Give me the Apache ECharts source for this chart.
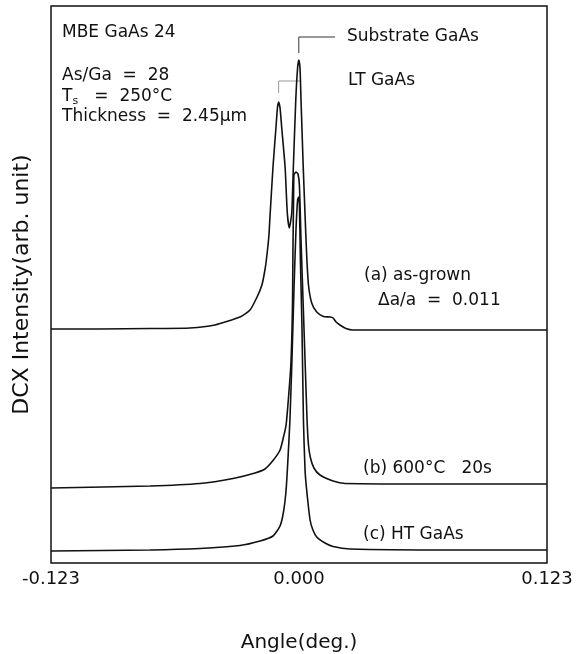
<!DOCTYPE html>
<html>
<head>
<meta charset="utf-8">
<script src="https://cdn.jsdelivr.net/npm/echarts@6/dist/echarts.min.js"></script>
<style>
  html, body { margin: 0; padding: 0; background: #fff; }
  #chart { width: 587px; height: 654px; }
</style>
</head>
<body>
<div id="chart"></div>
<script>
// angle (deg.) and intensity (arb. unit)
const xTicks = [-0.123, 0.000, 0.123];

const curveA = [
  [-0.123, 234], [-0.0987, 234], [-0.0739, 234.5], [-0.0541, 235], [-0.0417, 238],
  [-0.0293, 246], [-0.0243, 253], [-0.0208, 266], [-0.0184, 278], [-0.0169, 293],
  [-0.0159, 308], [-0.0149, 328], [-0.0144, 346], [-0.0129, 396], [-0.0114, 436],
  [-0.0107, 455], [-0.0101, 461], [-0.0094, 455], [-0.0086, 436], [-0.0069, 396],
  [-0.0058, 350], [-0.0048, 335], [-0.0036, 350], [-0.0028, 396], [-0.0016, 463],
  [-0.0007, 495], [-0.0001, 503], [0.0005, 495], [0.0010, 463], [0.0021, 396],
  [0.0030, 348], [0.0038, 308], [0.0047, 278], [0.0063, 260], [0.0088, 251],
  [0.0121, 246.5], [0.0154, 246], [0.0169, 245], [0.0184, 241], [0.0203, 238],
  [0.0233, 234.5], [0.0268, 233], [0.0749, 233], [0.123, 233]
];

const curveB = [
  [-0.123, 75], [-0.0739, 77], [-0.0491, 79.5], [-0.0327, 84.5], [-0.0218, 90],
  [-0.0169, 94], [-0.0127, 103], [-0.0094, 113], [-0.0078, 125], [-0.0064, 138],
  [-0.0053, 163], [-0.0041, 196], [-0.0035, 230], [-0.0032, 263], [-0.0030, 313],
  [-0.0027, 363], [-0.0025, 388], [-0.0015, 391], [-0.0005, 389], [0.0002, 378],
  [0.0010, 323], [0.0020, 263], [0.0030, 203], [0.0040, 143], [0.0047, 118],
  [0.0057, 105], [0.0074, 95], [0.0104, 88], [0.0169, 82], [0.0228, 79.5],
  [0.0749, 79], [0.123, 79]
];

const curveC = [
  [-0.123, 12], [-0.0739, 13], [-0.0491, 14.5], [-0.0293, 17.5], [-0.0193, 22],
  [-0.0129, 27], [-0.0094, 37], [-0.0077, 51], [-0.0064, 73], [-0.0055, 103],
  [-0.0045, 143], [-0.0035, 203], [-0.0025, 273], [-0.0015, 333], [-0.0007, 363],
  [-0.0002, 366], [0.0002, 358], [0.0007, 303], [0.0015, 233], [0.0022, 143],
  [0.0030, 93], [0.0038, 73], [0.0055, 43], [0.0069, 33], [0.0088, 26],
  [0.0129, 20], [0.0169, 16.5], [0.0253, 14], [0.0749, 13], [0.123, 13]
];

// leader lines from the peaks to their labels
const substrateLeader = [[-0.0001, 510], [-0.0001, 526], [0.0179, 526]];
const ltLeader = [[-0.0101, 470], [-0.0101, 482], [0.0005, 482]];

const FONT = "DejaVu Sans, Verdana, sans-serif";
const chart = echarts.init(document.getElementById("chart"));

function trace(name, data) {
  return {
    name: name,
    type: "line",
    data: data,
    symbol: "none",
    smooth: 0.2,
    lineStyle: {color: "#111", width: 1.6},
    z: 3
  };
}

function txt(x, y, content) {
  return {
    type: "text",
    x: x,
    y: y,
    style: {
      text: content,
      font: "17px " + FONT,
      fill: "#111",
      verticalAlign: "middle"
    }
  };
}

chart.setOption({
  animation: false,
  backgroundColor: "#fff",
  grid: {
    left: 51,
    right: 40,
    top: 6,
    bottom: 91,
    outerBoundsMode: "none",
    containLabel: false,
    show: true,
    borderColor: "#111",
    borderWidth: 1.5
  },
  xAxis: {
    type: "value",
    min: xTicks[0],
    max: xTicks[2],
    interval: 0.123,
    name: "Angle(deg.)",
    nameLocation: "middle",
    nameGap: 70,
    nameTextStyle: {fontFamily: FONT, fontSize: 20, color: "#111"},
    axisLine: {show: false},
    axisTick: {show: false},
    splitLine: {show: false},
    axisLabel: {
      fontFamily: FONT,
      fontSize: 18,
      color: "#111",
      margin: 7,
      formatter: v => v.toFixed(3)
    }
  },
  yAxis: {
    type: "value",
    min: 0,
    max: 557,
    name: "DCX Intensity(arb. unit)",
    nameLocation: "middle",
    nameGap: 18,
    nameTextStyle: {fontFamily: FONT, fontSize: 22, color: "#111"},
    axisLine: {show: false},
    axisTick: {show: false},
    axisLabel: {show: false},
    splitLine: {show: false}
  },
  series: [
    trace("(a) as-grown", curveA),
    trace("(b) 600°C 20s", curveB),
    trace("(c) HT GaAs", curveC),
    {
      type: "line", data: substrateLeader, symbol: "none",
      lineStyle: {color: "#333", width: 1}, z: 2
    },
    {
      type: "line", data: ltLeader, symbol: "none",
      lineStyle: {color: "#999", width: 1}, z: 2
    }
  ],
  graphic: [
    txt(62, 33, "MBE GaAs 24"),
    txt(62, 76, "As/Ga  =  28"),
    {
      type: "text", x: 62, y: 97,
      style: {
        text: "{t|T}{s|s}{t|   =  250°C}",
        verticalAlign: "middle",
        rich: {
          t: {font: "17px " + FONT, fill: "#111"},
          s: {font: "11px " + FONT, fill: "#111", padding: [9, 0, 0, 0]}
        }
      }
    },
    txt(62, 117, "Thickness  =  2.45μm"),
    txt(347, 37, "Substrate GaAs"),
    txt(348, 81, "LT GaAs"),
    txt(364, 276, "(a) as-grown"),
    txt(378, 301, "Δa/a  =  0.011"),
    txt(363, 469, "(b) 600°C   20s"),
    txt(363, 535, "(c) HT GaAs")
  ]
});
</script>
</body>
</html>
